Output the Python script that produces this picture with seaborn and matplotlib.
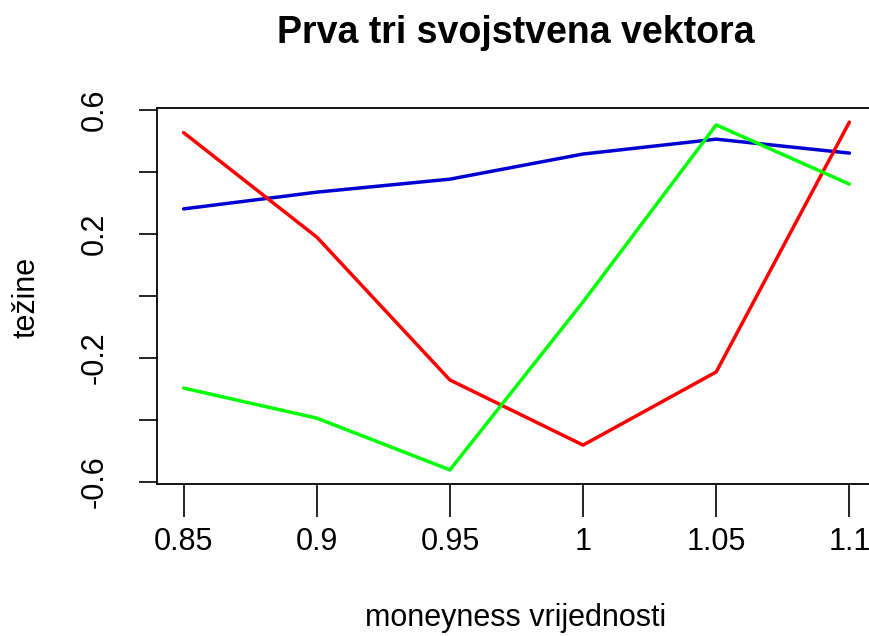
import pandas as pd
import matplotlib
matplotlib.use("Agg")
import matplotlib.pyplot as plt
import seaborn as sns

# podaci očitani sa slike
moneyness = [0.85, 0.9, 0.95, 1.0, 1.05, 1.1]
vektor1 = [0.281, 0.335, 0.377, 0.458, 0.506, 0.461]     # plava
vektor2 = [0.527, 0.190, -0.271, -0.481, -0.245, 0.561]  # crvena
vektor3 = [-0.297, -0.394, -0.561, -0.019, 0.552, 0.361] # zelena
serije = ["v1", "v2", "v3"]
boje = {"v1": "#0000D0", "v2": "#FF0000", "v3": "#00FF00"}

y_ticks = [-0.6, -0.4, -0.2, 0.0, 0.2, 0.4, 0.6]
y_labels = ["-0.6", "", "-0.2", "", "0.2", "", "0.6"]
x_labels = ["0.85", "0.9", "0.95", "1", "1.05", "1.1"]

df = pd.DataFrame({
    "x": moneyness * 3,
    "y": vektor1 + vektor2 + vektor3,
    "serija": [s for s in serije for _ in moneyness],
})

sns.set_style("white")
plt.rcParams["font.family"] = ["Liberation Sans", "DejaVu Sans"]
plt.rcParams["text.color"] = "black"
plt.rcParams["xtick.color"] = "black"
plt.rcParams["ytick.color"] = "black"

fig = plt.figure(figsize=(8.7, 6.36), dpi=100)
ax = fig.add_axes([157 / 870, 1 - 484 / 636, (876 - 157) / 870, (484 - 108) / 636])

sns.lineplot(data=df, x="x", y="y", hue="serija", palette=boje,
             hue_order=serije, linewidth=2.5, legend=False, ax=ax, sort=False)

ax.set_xlim(0.84, 1.11)
ax.set_ylim(-0.6065, 0.6065)

ax.set_xticks(moneyness)
ax.set_xticklabels(x_labels)
ax.set_yticks(y_ticks)
ax.set_yticklabels(y_labels)

ax.tick_params(axis="x", length=24, width=1.2, pad=7, labelsize=22, direction="out",
               color="black", labelcolor="black", bottom=True)
ax.tick_params(axis="y", length=13, width=1.2, pad=21, labelsize=22, direction="out",
               color="black", labelcolor="black", left=True)
for lab in ax.get_yticklabels():
    lab.set_rotation(90)
    lab.set_va("center")

for sp in ax.spines.values():
    sp.set_visible(True)
    sp.set_color("black")
    sp.set_linewidth(1.3)

ax.set_xlabel("")
ax.set_ylabel("")
fig.text(516 / 870, 1 - 618 / 636, "moneyness vrijednosti", ha="center", va="center", fontsize=22)
fig.text(27 / 870, 1 - 297 / 636, "težine", ha="center", va="center", rotation=90, fontsize=22)
fig.text(516 / 870, 1 - 33 / 636, "Prva tri svojstvena vektora", ha="center", va="center",
         fontsize=27, fontweight="bold")

fig.savefig("out.png", dpi=100)
